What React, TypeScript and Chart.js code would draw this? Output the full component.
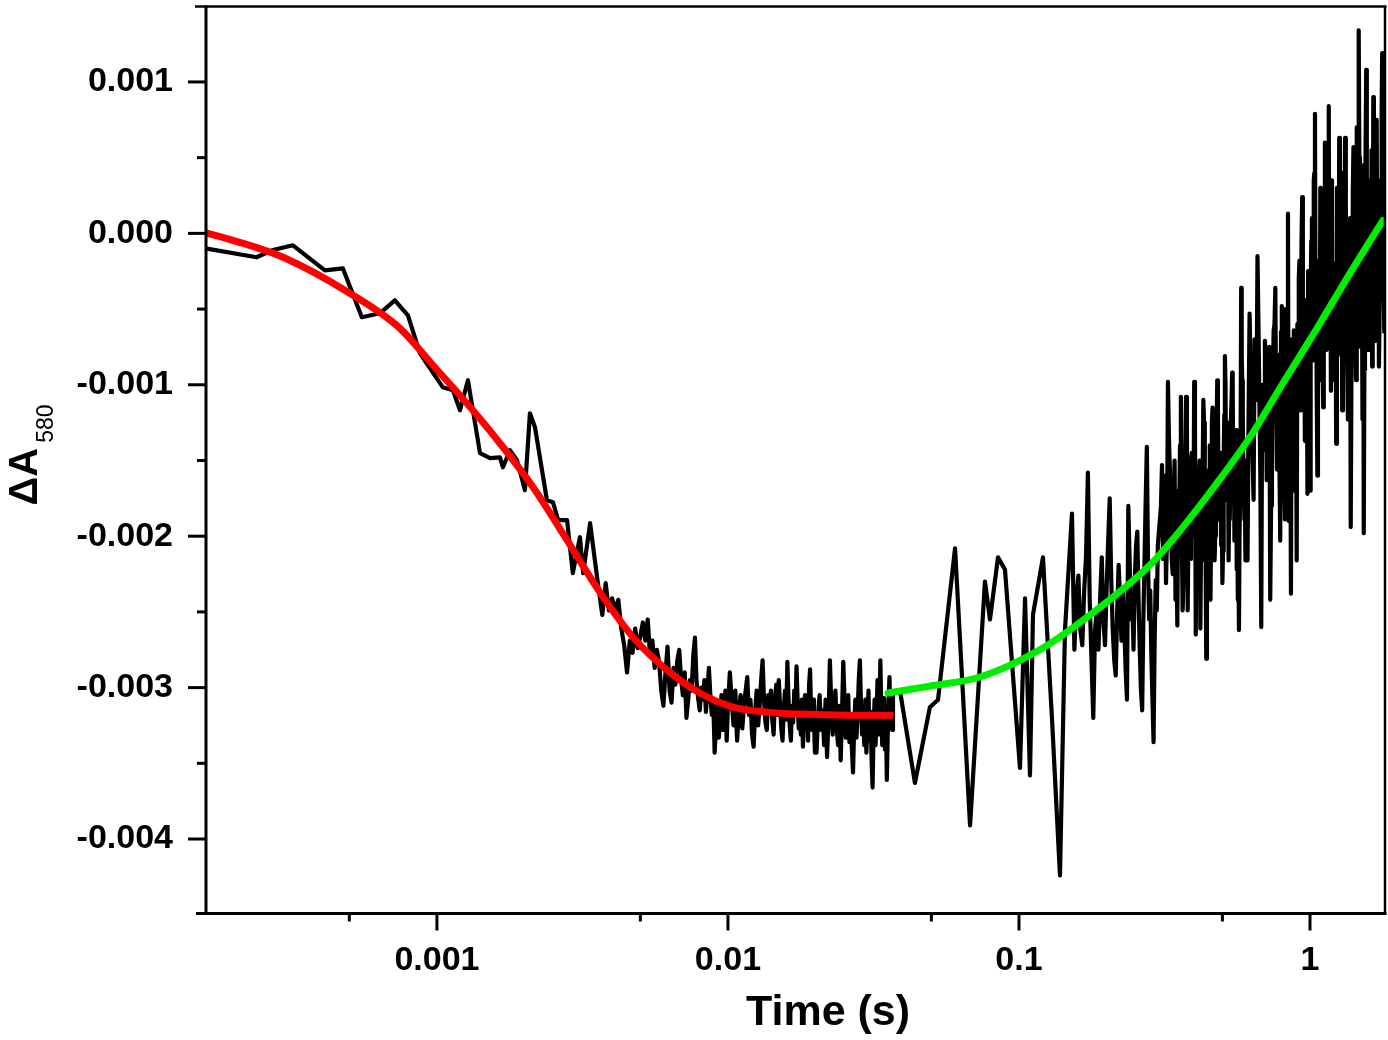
import React, { useEffect, useRef } from 'react';
import { Chart, registerables } from 'chart.js';

Chart.register(...registerables);

// ---------- data: time (s) and ΔA580 ----------
// fast decay, sparse early samples
const decayTime = [
  0.00016, 0.00024, 0.000271, 0.00032, 0.000412, 0.000475, 0.000552, 0.000637, 0.000717, 0.000795, 0.000874, 0.001048,
  0.001135, 0.0012, 0.001278, 0.001352, 0.001406, 0.001522, 0.001646, 0.001686, 0.001782, 0.001884, 0.002006, 0.002087,
  0.002172, 0.002387, 0.002505, 0.002607, 0.0028, 0.00293, 0.0031, 0.00318, 0.00336, 0.00355, 0.0037, 0.0038, 0.0039,
];
const decayDeltaA = [
  -0.000099, -0.000158, -0.000112, -0.000079, -0.000244, -0.000231, -0.000554, -0.000528, -0.000442, -0.000541, -0.000792, -0.001017,
  -0.001036, -0.001168, -0.00097, -0.001254, -0.001452, -0.001485, -0.001479, -0.001545, -0.001432, -0.001498, -0.001696, -0.001188,
  -0.00128, -0.001762, -0.001776, -0.001894, -0.001894, -0.002244, -0.002007, -0.002244, -0.001914, -0.002271, -0.00252, -0.00231, -0.00249,
];

// 4 ms – 10 ms
const plateau1Time = [
  0.004, 0.0041, 0.0042, 0.0043, 0.0044, 0.0045, 0.0046, 0.0047, 0.0048, 0.0049, 0.005, 0.0051, 0.0052, 0.0053, 0.0054,
  0.0055, 0.0056, 0.0057, 0.0058, 0.0059, 0.006, 0.0061, 0.0062, 0.0063, 0.0064, 0.0065, 0.0066, 0.0067, 0.0068, 0.0069,
  0.007, 0.0071, 0.0072, 0.0073, 0.0074, 0.0075, 0.0076, 0.0077, 0.0078, 0.0079, 0.008, 0.0081, 0.0082, 0.0083, 0.0084,
  0.0085, 0.0086, 0.0087, 0.0088, 0.0089, 0.009, 0.0091, 0.0092, 0.0093, 0.0094, 0.0095, 0.0096, 0.0097, 0.0098, 0.0099, 0.01,
];
const plateau1DeltaA = [
  -0.00241, -0.00249, -0.00242, -0.00261, -0.00272, -0.0029, -0.00269, -0.00277, -0.00261, -0.00274, -0.00266, -0.00257, -0.00269, -0.00255, -0.00279,
  -0.00269, -0.00287, -0.00275, -0.00283, -0.00302, -0.00312, -0.0029, -0.00273, -0.00302, -0.0031, -0.00287, -0.00298, -0.00282, -0.00275, -0.00294,
  -0.00305, -0.0029, -0.0032, -0.00308, -0.00295, -0.00302, -0.00279, -0.00267, -0.00296, -0.00307, -0.00315, -0.003, -0.00308, -0.00295, -0.00316,
  -0.00302, -0.00287, -0.00305, -0.00318, -0.00308, -0.00343, -0.00325, -0.00312, -0.00333, -0.00321, -0.00305, -0.00328, -0.00316, -0.00302, -0.00335, -0.00312,
];

// 10 ms – 20 ms
const plateau2Time = [
  0.01015, 0.0103, 0.01045, 0.0106, 0.01075, 0.0109, 0.01105, 0.0112, 0.01135, 0.0115,
  0.01165, 0.0118, 0.01195, 0.0121, 0.01225, 0.0124, 0.01255, 0.0127, 0.01285, 0.013,
  0.01315, 0.0133, 0.01345, 0.0136, 0.01375, 0.0139, 0.01405, 0.0142, 0.01435, 0.0145,
  0.01465, 0.0148, 0.01495, 0.0151, 0.01525, 0.0154, 0.01555, 0.0157, 0.01585, 0.016,
  0.01615, 0.0163, 0.01645, 0.0166, 0.01675, 0.0169, 0.01705, 0.0172, 0.01735, 0.0175,
  0.01765, 0.0178, 0.01795, 0.0181, 0.01825, 0.0184, 0.01855, 0.0187, 0.01885, 0.019,
  0.01915, 0.0193, 0.01945, 0.0196, 0.01975, 0.0199,
];
const plateau2DeltaA = [
  -0.0029, -0.00308, -0.00325, -0.00302, -0.00335, -0.00316, -0.00305, -0.00327, -0.00312, -0.00302,
  -0.00293, -0.00318, -0.00308, -0.00331, -0.00339, -0.00316, -0.00302, -0.00325, -0.00312, -0.00295,
  -0.00282, -0.00308, -0.00323, -0.00328, -0.00305, -0.00316, -0.00302, -0.00321, -0.00331, -0.00308,
  -0.00298, -0.00318, -0.00295, -0.00312, -0.00327, -0.00335, -0.00315, -0.00302, -0.00321, -0.00283,
  -0.00308, -0.00325, -0.00335, -0.00312, -0.00323, -0.00302, -0.00318, -0.00286, -0.00308, -0.00327,
  -0.00315, -0.00331, -0.00308, -0.00339, -0.0032, -0.00305, -0.00325, -0.00312, -0.00335, -0.00298,
  -0.00288, -0.00316, -0.00328, -0.00308, -0.00323, -0.00343,
];

// 20 ms – 37 ms
const plateau3Time = [
  0.02015, 0.0204, 0.02065, 0.0209, 0.02115, 0.0214, 0.02165, 0.0219, 0.02215, 0.0224,
  0.02265, 0.0229, 0.02315, 0.0234, 0.02365, 0.0239, 0.02415, 0.0244, 0.02465, 0.0249,
  0.02515, 0.0254, 0.02565, 0.0259, 0.02615, 0.0264, 0.02665, 0.0269, 0.02715, 0.0274,
  0.02765, 0.0279, 0.02815, 0.0284, 0.02865, 0.0289, 0.02915, 0.0294, 0.02965, 0.0299,
  0.03015, 0.0304, 0.03065, 0.0309, 0.03115, 0.0314, 0.03165, 0.0319, 0.03215, 0.0324,
  0.03265, 0.0329, 0.03315, 0.0334, 0.03365, 0.0339, 0.03415, 0.0344, 0.03465, 0.0349,
  0.03515, 0.0354, 0.03565, 0.0359, 0.03615, 0.0364, 0.03665, 0.0369,
];
const plateau3DeltaA = [
  -0.00343, -0.00318, -0.00305, -0.00328, -0.00315, -0.00338, -0.00308, -0.00346, -0.00321, -0.00282,
  -0.00312, -0.00331, -0.00316, -0.00302, -0.00327, -0.00338, -0.00312, -0.00348, -0.00318, -0.00283,
  -0.00308, -0.00333, -0.0032, -0.00305, -0.00336, -0.00321, -0.0034, -0.00356, -0.00325, -0.00308,
  -0.00333, -0.00316, -0.00295, -0.00282, -0.00312, -0.00331, -0.00318, -0.00338, -0.00308, -0.00343,
  -0.00323, -0.00302, -0.00335, -0.00316, -0.00347, -0.00366, -0.00328, -0.00308, -0.00338, -0.00318,
  -0.00295, -0.00331, -0.00312, -0.00282, -0.00316, -0.00338, -0.00325, -0.00307, -0.00341, -0.00318,
  -0.00361, -0.00331, -0.00308, -0.00293, -0.00321, -0.00308, -0.00328, -0.00304,
];

// slow time base: 39 ms – 0.3 s
const recovery1Time = [
  0.039, 0.0439, 0.0494, 0.0527, 0.0603, 0.0679, 0.0764, 0.0795, 0.0847, 0.0895, 0.1008, 0.1049, 0.1091, 0.1117, 0.1209,
  0.1298, 0.1383, 0.1439, 0.1521,
  0.155, 0.1575, 0.16, 0.1625, 0.165, 0.1675, 0.17, 0.1725, 0.175, 0.1775,
  0.18, 0.1825, 0.185, 0.1875, 0.19, 0.1925, 0.195, 0.1975, 0.2, 0.2025,
  0.205, 0.2075, 0.21, 0.2125, 0.215, 0.2175, 0.22, 0.2225, 0.225, 0.2275,
  0.23, 0.2325, 0.235, 0.2375, 0.24, 0.2425, 0.245, 0.2475, 0.25, 0.2525,
  0.255, 0.2575, 0.26, 0.2625, 0.265, 0.2675, 0.27, 0.2725, 0.275, 0.2775,
  0.28, 0.2825, 0.285, 0.2875, 0.29, 0.2925, 0.295, 0.2975, 0.3,
];
const recovery1DeltaA = [
  -0.00302, -0.00363, -0.00313, -0.00308, -0.00208, -0.00391, -0.0023, -0.00255, -0.00214, -0.00222, -0.00353, -0.00241, -0.00358, -0.00252, -0.00214,
  -0.0032, -0.00424, -0.00262, -0.00185,
  -0.00275, -0.00242, -0.00226, -0.00262, -0.00272, -0.00236, -0.00213, -0.00158, -0.00242, -0.00282,
  -0.0032, -0.00262, -0.00249, -0.00275, -0.00242, -0.00214, -0.00255, -0.00272, -0.00236, -0.00203,
  -0.00175, -0.00229, -0.00262, -0.00282, -0.00292, -0.00249, -0.00219, -0.00242, -0.00269, -0.00236,
  -0.00259, -0.00288, -0.00308, -0.0018, -0.00216, -0.00255, -0.00242, -0.00275, -0.00229, -0.00206,
  -0.00197, -0.00242, -0.00275, -0.00302, -0.00315, -0.00255, -0.00216, -0.00176, -0.00141, -0.00216,
  -0.00255, -0.00236, -0.00279, -0.00308, -0.00336, -0.00269, -0.00229, -0.00249, -0.00206,
];

// 0.3 s – 0.6 s
const recovery2Time = [
  0.305, 0.31, 0.315, 0.32, 0.325, 0.33, 0.335, 0.34, 0.345, 0.35,
  0.355, 0.36, 0.365, 0.37, 0.375, 0.38, 0.385, 0.39, 0.395, 0.4,
  0.405, 0.41, 0.415, 0.42, 0.425, 0.43, 0.435, 0.44, 0.445, 0.45,
  0.455, 0.46, 0.465, 0.47, 0.475, 0.48, 0.485, 0.49, 0.495, 0.5,
  0.505, 0.51, 0.515, 0.52, 0.525, 0.53, 0.535, 0.54, 0.545, 0.55,
  0.555, 0.56, 0.565, 0.57, 0.575, 0.58, 0.585, 0.59, 0.595, 0.6,
];
const recovery2DeltaA = [
  -0.00189, -0.00153, -0.00203, -0.00231, -0.00098, -0.00156, -0.00216, -0.00176, -0.00242, -0.00259,
  -0.00189, -0.00108, -0.00249, -0.00163, -0.00108, -0.00249, -0.00203, -0.0015, -0.00176, -0.00098,
  -0.00265, -0.00216, -0.00163, -0.00261, -0.00189, -0.0011, -0.00216, -0.00281, -0.00196, -0.00156,
  -0.00242, -0.00125, -0.00176, -0.00216, -0.00143, -0.00097, -0.00189, -0.00156, -0.00206, -0.00231,
  -0.0015, -0.00081, -0.00176, -0.00137, -0.00216, -0.00189, -0.00123, -0.00092, -0.00163, -0.00203,
  -0.0015, -0.00222, -0.00242, -0.00262, -0.00176, -0.00036, -0.00097, -0.0015, -0.00189, -0.00216,
];
// interleaved samples, 0.3 s – 0.6 s
const recovery2bTime = [
  0.3075, 0.3125, 0.3175, 0.3225, 0.3275, 0.3325, 0.3375, 0.3425, 0.3475, 0.3525,
  0.3575, 0.3625, 0.3675, 0.3725, 0.3775, 0.3825, 0.3875, 0.3925, 0.3975, 0.4025,
  0.4075, 0.4125, 0.4175, 0.4225, 0.4275, 0.4325, 0.4375, 0.4425, 0.4475, 0.4525,
  0.4575, 0.4625, 0.4675, 0.4725, 0.4775, 0.4825, 0.4875, 0.4925, 0.4975, 0.5025,
  0.5075, 0.5125, 0.5175, 0.5225, 0.5275, 0.5325, 0.5375, 0.5425, 0.5475, 0.5525,
  0.5575, 0.5625, 0.5675, 0.5725, 0.5775, 0.5825, 0.5875, 0.5925, 0.5975, 0.6025,
];
const recovery2bDeltaA = [
  -0.0018, -0.00215, -0.0016, -0.002, -0.00135, -0.0019, -0.00225, -0.0015, -0.00205, -0.0017,
  -0.0014, -0.00195, -0.0023, -0.0016, -0.0012, -0.00185, -0.00215, -0.00145, -0.002, -0.0013,
  -0.00175, -0.00225, -0.0015, -0.00195, -0.00165, -0.00125, -0.00205, -0.0024, -0.0017, -0.0014,
  -0.0019, -0.00115, -0.0016, -0.002, -0.0013, -0.0011, -0.00175, -0.00145, -0.0019, -0.0021,
  -0.0012, -0.001, -0.00155, -0.00125, -0.00185, -0.0016, -0.0011, -0.00105, -0.0015, -0.0018,
  -0.0013, -0.00195, -0.00215, -0.002, -0.0014, -0.0008, -0.0012, -0.00165, -0.00175, -0.0015,
];

// 0.6 s – 1.8 s
const recovery3Time = [
  0.61, 0.62, 0.63, 0.64, 0.65, 0.66, 0.67, 0.68, 0.69, 0.7,
  0.71, 0.72, 0.73, 0.74, 0.75, 0.76, 0.77, 0.78, 0.79, 0.8,
  0.81, 0.82, 0.83, 0.84, 0.85, 0.86, 0.87, 0.88, 0.89, 0.9,
  0.91, 0.92, 0.93, 0.94, 0.95, 0.96, 0.97, 0.98, 0.99, 1.0,
  1.01, 1.02, 1.03, 1.04, 1.05, 1.06, 1.07, 1.08, 1.09, 1.1,
  1.11, 1.12, 1.13, 1.14, 1.15, 1.16, 1.17, 1.18, 1.19, 1.2,
  1.215, 1.23, 1.245, 1.26, 1.275, 1.29, 1.305, 1.32, 1.335, 1.35,
  1.365, 1.38, 1.395, 1.41, 1.425, 1.44, 1.455, 1.47, 1.485, 1.5,
  1.515, 1.53, 1.545, 1.56, 1.575, 1.59, 1.605, 1.62, 1.635, 1.65,
  1.665, 1.68, 1.695, 1.71, 1.725, 1.74, 1.755, 1.77, 1.785, 1.8,
];
const recovery3DeltaA = [
  -0.00216, -0.00053, -0.00123, -0.00176, -0.00084, -0.00015, -0.0011, -0.0026, -0.00143, -0.00071,
  -0.00163, -0.00097, -0.00242, -0.0013, -0.00064, -0.00036, -0.00156, -0.00104, -0.00203, -0.00048,
  -0.00123, -0.00189, -0.00084, 0.00013, -0.00137, -0.00238, -0.00163, -0.00064, -0.00123, -0.00216,
  -0.00097, -0.00018, -0.00117, 0.00024, -0.00077, -0.00137, -0.00044, -0.00172, -0.0009, -0.0017,
  -0.00005, -0.00084, 0.00035, 0.00079, -0.00044, -0.0016, -0.00018, -0.00097, 0.00022, -0.00064,
  -0.00115, 0.00009, 0.00055, -0.00077, -0.00011, 0.00084, -0.00044, -0.00104, 0.00022, -0.00031,
  -0.00097, -0.00139, -0.00011, 0.00063, -0.00064, -0.00117, 0.00022, 0.00063, -0.00044, -0.00123,
  -0.00011, -0.00194, -0.00077, 0.00057, -0.00031, -0.00097, 0.00022, 0.00134, 0.00035, -0.00044,
  -0.00123, -0.00198, -0.00018, 0.00108, 0.00009, -0.00077, 0.00035, -0.00044, -0.00088, 0.0009,
  -0.00011, -0.00071, 0.00075, -0.00031, -0.00088, 0.00022, -0.00044, 0.00119, 0.00022, -0.00066,
];
// interleaved samples, 0.6 s – 1.8 s
const recovery3bTime = [
  0.615, 0.625, 0.635, 0.645, 0.655, 0.665, 0.675, 0.685, 0.695, 0.705,
  0.715, 0.725, 0.735, 0.745, 0.755, 0.765, 0.775, 0.785, 0.795, 0.805,
  0.815, 0.825, 0.835, 0.845, 0.855, 0.865, 0.875, 0.885, 0.895,
  0.905, 0.915, 0.925, 0.935, 0.945, 0.955, 0.965, 0.975, 0.985, 0.995,
  1.005, 1.015, 1.025, 1.035, 1.045, 1.055, 1.065, 1.075, 1.085, 1.095,
  1.105, 1.115, 1.125, 1.135, 1.145, 1.155, 1.165, 1.175, 1.185, 1.195,
  1.2075, 1.2225, 1.2375, 1.2525, 1.2675, 1.2825, 1.2975, 1.3125, 1.3275, 1.3425,
  1.3575, 1.3725, 1.3875, 1.4025, 1.4175, 1.4325, 1.4475, 1.4625, 1.4775, 1.4925,
  1.5075, 1.5225, 1.5375, 1.5525, 1.5675, 1.5825, 1.5975, 1.6125, 1.6275, 1.6425,
  1.6575, 1.6725, 1.6875, 1.7025, 1.7175, 1.7325, 1.7475, 1.7625, 1.7775, 1.7925,
];
const recovery3bDeltaA = [
  -0.0012, -0.0009, -0.0015, -0.0007, -0.0011, -0.0006, -0.0016, -0.001, -0.0013, -0.00085,
  -0.0014, -0.00075, -0.0018, -0.00095, -0.0006, -0.0012, -0.0008, -0.0015, -0.00065, -0.00105,
  -0.0016, -0.0005, -0.00115, -0.0019, -0.0009, -0.0007, -0.00125, -0.0017, -0.00085,
  -0.0006, -0.0003, -0.0011, -0.00005, -0.00095, -0.0005, -0.0012, -0.0007, -0.00025, -0.001,
  -0.0004, 0.0001, -0.0008, 0.0004, -0.0006, -0.0011, -0.0002, -0.00075, 0.0003, -0.0005,
  -0.0009, 0.00015, 0.0006, -0.0004, 0.0002, 0.0005, -0.0007, -0.00015, 0.00035, -0.00055,
  -0.0006, -0.0002, 0.0003, -0.0008, -0.0001, 0.0004, -0.0007, -0.00025, 0.0002, -0.0009,
  -0.0004, 0.0001, -0.001, 0.00025, -0.00055, 0.00005, 0.0007, -0.0002, 0.0005, -0.00075,
  -0.0003, 0.00045, -0.0009, 0.0006, -0.00005, 0.0003, -0.0005, 0.00015, 0.00055, -0.00035,
  0.0004, -0.0001, 0.00065, -0.00045, 0.0002, -0.0006, 0.00035, 0.0008, -0.00015, -0.0004,
];

// red fit (fast phase)
const redFitTime = [0.0001596, 0.000199, 0.000296, 0.000502, 0.000746, 0.000969, 0.001267, 0.001646, 0.00214, 0.0028, 0.00363, 0.00472, 0.00617, 0.00801, 0.0104, 0.0136, 0.0177, 0.0262, 0.0369];
const redFitDeltaA = [0.000005, -0.000046, -0.000158, -0.000396, -0.000627, -0.000871, -0.001122, -0.001386, -0.001677, -0.002026, -0.00237, -0.002667, -0.002884, -0.003036, -0.003129, -0.003162, -0.003175, -0.003182, -0.003182];

// green fit (slow phase)
const greenFitTime = [0.0355, 0.0494, 0.0735, 0.118, 0.162, 0.282, 0.366, 0.479, 0.622, 0.807, 1.057, 1.372, 1.782];
const greenFitDeltaA = [-0.003036, -0.00299, -0.00293, -0.00275, -0.00257, -0.00219, -0.00194, -0.00165, -0.001346, -0.00099, -0.000627, -0.000264, 0.000086];

// axes
const xRange = [1.596e-4, 1.81];
const yRange = [-0.004482, 0.001495];
const xTickValues = [0.001, 0.01, 0.1, 1];
const xTickLabels = ['0.001', '0.01', '0.1', '1'];
const xMinorTicks = [0.0005, 0.005, 0.05, 0.5];
const yTickValues = [-0.004, -0.003, -0.002, -0.001, 0, 0.001];
const yTickLabels = ['-0.004', '-0.003', '-0.002', '-0.001', '0.000', '0.001'];
const yMinorTicks = [-0.0035, -0.0025, -0.0015, -0.0005, 0.0005];
const xTitle = 'Time (s)';
const yTitleMain = 'ΔA';
const yTitleSub = '580';

const FONT = '"Liberation Sans", Arial, Helvetica, sans-serif';

const toPoints = (xs: number[], ys: number[]) => xs.map((x, i) => ({ x, y: ys[i] }));

const framePlugin = {
  id: 'originFrame',
  afterDraw(chart: any) {
    const { ctx, chartArea } = chart;
    const { left, right, top, bottom } = chartArea;
    const xs = chart.scales.x;
    const ys = chart.scales.y;
    const line = (x1: number, y1: number, x2: number, y2: number) => {
      ctx.beginPath();
      ctx.moveTo(x1, y1);
      ctx.lineTo(x2, y2);
      ctx.stroke();
    };
    ctx.save();
    ctx.strokeStyle = '#000';
    ctx.lineCap = 'butt';
    const axX = left + 1;
    const axY = bottom + 1.5;
    // top & right frame
    ctx.lineWidth = 2.5;
    line(left - 10, top - 0.5, right + 1.5, top - 0.5);
    line(right, top - 0.5, right, axY);
    // left & bottom axes
    ctx.lineWidth = 3;
    line(axX, top - 1.5, axX, axY + 1.5);
    line(left - 9, axY, right + 1.5, axY);
    // ticks
    yTickValues.forEach((v) => {
      const p = ys.getPixelForValue(v);
      line(axX - 18, p, axX, p);
    });
    yMinorTicks.forEach((v) => {
      const p = ys.getPixelForValue(v);
      line(axX - 9, p, axX, p);
    });
    xTickValues.forEach((v) => {
      const p = xs.getPixelForValue(v);
      line(p, axY, p, axY + 17);
    });
    xMinorTicks.forEach((v) => {
      const p = xs.getPixelForValue(v);
      line(p, axY, p, axY + 8);
    });
    // titles
    ctx.fillStyle = '#000';
    ctx.textBaseline = 'alphabetic';
    ctx.textAlign = 'center';
    ctx.font = `bold 43px ${FONT}`;
    ctx.fillText(xTitle, (left + right) / 2 + 33, bottom + 113);

    ctx.translate(37, (top + bottom) / 2 + 46);
    ctx.rotate(-Math.PI / 2);
    ctx.textAlign = 'left';
    ctx.font = `bold 40px ${FONT}`;
    ctx.fillText(yTitleMain, 0, 0);
    const w = ctx.measureText(yTitleMain).width;
    ctx.font = `23px ${FONT}`;
    ctx.fillText(yTitleSub, w + 5, 16);
    ctx.restore();
  },
};

export default function App() {
  const canvasRef = useRef<HTMLCanvasElement | null>(null);

  useEffect(() => {
    const canvas = canvasRef.current;
    if (!canvas) return;
    const trace = [
      ...toPoints(decayTime, decayDeltaA),
      ...toPoints(plateau1Time, plateau1DeltaA),
      ...toPoints(plateau2Time, plateau2DeltaA),
      ...toPoints(plateau3Time, plateau3DeltaA),
      ...toPoints(recovery1Time, recovery1DeltaA),
      ...toPoints(recovery2Time, recovery2DeltaA),
      ...toPoints(recovery2bTime, recovery2bDeltaA),
      ...toPoints(recovery3Time, recovery3DeltaA),
      ...toPoints(recovery3bTime, recovery3bDeltaA),
    ].sort((a, b) => a.x - b.x);
    const chart = new Chart(canvas, {
      type: 'line',
      data: {
        datasets: [
          {
            label: 'fit 1',
            data: toPoints(redFitTime, redFitDeltaA),
            borderColor: '#ff0000',
            borderWidth: 7,
            pointRadius: 0,
            cubicInterpolationMode: 'monotone',
            borderCapStyle: 'butt',
            order: 0,
          },
          {
            label: 'fit 2',
            data: toPoints(greenFitTime, greenFitDeltaA),
            borderColor: '#00ee00',
            borderWidth: 7,
            pointRadius: 0,
            cubicInterpolationMode: 'monotone',
            borderCapStyle: 'round',
            order: 0,
          },
          {
            label: 'data',
            data: trace,
            borderColor: '#000000',
            borderWidth: 4.2,
            pointRadius: 0,
            tension: 0,
            borderJoinStyle: 'round',
            order: 2,
          },
        ],
      },
      options: {
        responsive: false,
        animation: false,
        devicePixelRatio: 1,
        events: [],
        layout: { padding: { left: 0, right: 3, top: 7, bottom: 0 } },
        plugins: {
          legend: { display: false },
          tooltip: { enabled: false },
          title: { display: false },
        },
        scales: {
          x: {
            type: 'logarithmic',
            position: 'bottom',
            min: xRange[0],
            max: xRange[1],
            grid: { display: false, drawTicks: false },
            border: { display: false },
            afterBuildTicks: (s: any) => {
              s.ticks = xTickValues.map((v) => ({ value: v }));
            },
            afterFit: (s: any) => {
              s.height = 128;
              s.paddingLeft = 0;
              s.paddingRight = 0;
            },
            ticks: {
              autoSkip: false,
              maxRotation: 0,
              minRotation: 0,
              padding: 28,
              color: '#000',
              font: { family: FONT, size: 34, weight: 'bold' },
              callback: (v: any) => {
                const i = xTickValues.indexOf(Number(v));
                return i >= 0 ? xTickLabels[i] : '';
              },
            },
          },
          y: {
            type: 'linear',
            position: 'left',
            min: yRange[0],
            max: yRange[1],
            grid: { display: false, drawTicks: false },
            border: { display: false },
            afterBuildTicks: (s: any) => {
              s.ticks = yTickValues.map((v) => ({ value: v }));
            },
            afterFit: (s: any) => {
              s.width = 205;
              s.paddingTop = 0;
              s.paddingBottom = 0;
            },
            ticks: {
              autoSkip: false,
              padding: 32,
              color: '#000',
              font: { family: FONT, size: 34, weight: 'bold' },
              callback: (v: any) => {
                const i = yTickValues.findIndex((t) => Math.abs(t - Number(v)) < 1e-9);
                return i >= 0 ? yTickLabels[i] : '';
              },
            },
          },
        },
      } as any,
      plugins: [framePlugin],
    });
    return () => chart.destroy();
  }, []);

  return (
    <div style={{ position: 'absolute', left: 0, top: 0, width: 1388, height: 1040, background: '#fff' }}>
      <canvas ref={canvasRef} width={1388} height={1040} style={{ display: 'block' }} />
    </div>
  );
}
